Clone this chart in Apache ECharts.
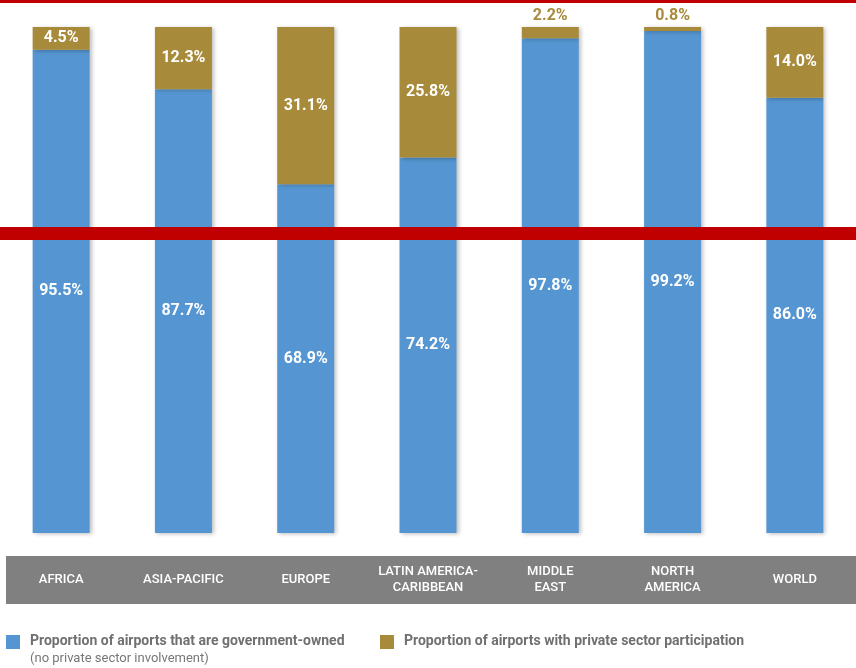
<!DOCTYPE html>
<html>
<head>
<meta charset="utf-8">
<script src="https://cdn.jsdelivr.net/npm/echarts@6/dist/echarts.min.js"></script>
<style>html,body{margin:0;padding:0;background:#fff}#c{width:856px;height:668px}</style>
</head>
<body>
<div id="c"></div>
<script>
const categories = ['AFRICA', 'ASIA-PACIFIC', 'EUROPE', 'LATIN AMERICA-\nCARIBBEAN', 'MIDDLE\nEAST', 'NORTH\nAMERICA', 'WORLD'];
const govOwned = [95.5, 87.7, 68.9, 74.2, 97.8, 99.2, 86.0];
const privatePart = [4.5, 12.3, 31.1, 25.8, 2.2, 0.8, 14.0];
const seriesNames = ['Proportion of airports that are government-owned', 'Proportion of airports with private sector participation'];
const legendNote = '(no private sector involvement)';

const BLUE = '#5596d2', GOLD = '#a88a3b';
const FONT = 'Roboto, "Liberation Sans", sans-serif';
const shadow = { shadowBlur: 4, shadowOffsetX: 2, shadowOffsetY: 1, shadowColor: 'rgba(0,0,0,0.25)' };

const chart = echarts.init(document.getElementById('c'));
chart.setOption({
  animation: false,
  grid: { left: 0, right: -10, top: 27, bottom: 135, containLabel: false },
  xAxis: {
    type: 'category', data: categories, z: 10,
    axisLine: { show: false }, axisTick: { show: false },
    axisLabel: { color: '#fff', fontFamily: FONT, fontSize: 13, fontWeight: 500, lineHeight: 16, margin: 47, verticalAlign: 'middle', interval: 0 }
  },
  yAxis: { type: 'value', min: 0, max: 100, show: false, splitLine: { show: false } },
  graphic: [
    { type: 'rect', z: 0, shape: { x: 6, y: 556, width: 850, height: 48 }, style: { fill: '#808080' } },
    { type: 'rect', z: 100, shape: { x: 0, y: 0, width: 856, height: 3 }, style: { fill: '#c00000' } },
    { type: 'rect', z: 100, shape: { x: 0, y: 227, width: 856, height: 13 }, style: { fill: '#c00000' } },
    { type: 'rect', z: 100, shape: { x: 6, y: 635, width: 14, height: 14 }, style: { fill: BLUE } },
    { type: 'text', z: 100, left: 30, top: 634, style: { text: seriesNames[0], fill: '#707070', font: 'bold 14px ' + FONT } },
    { type: 'text', z: 100, left: 30, top: 652, style: { text: legendNote, fill: '#777', font: '13px ' + FONT } },
    { type: 'rect', z: 100, shape: { x: 380, y: 635, width: 14, height: 14 }, style: { fill: GOLD } },
    { type: 'text', z: 100, left: 404, top: 634, style: { text: seriesNames[1], fill: '#707070', font: 'bold 14px ' + FONT } }
  ],
  series: [
    { name: seriesNames[0], type: 'bar', stack: 'a', barWidth: 57, data: govOwned,
      itemStyle: Object.assign({ color: BLUE }, shadow),
      label: { show: true, position: 'inside', formatter: p => p.value.toFixed(1) + '%', color: '#fff', fontFamily: FONT, fontSize: 16, fontWeight: 'bold' } },
    { name: seriesNames[1], type: 'bar', stack: 'a', barWidth: 57,
      data: privatePart.map(v => v < 3
        ? { value: v, label: { position: 'top', distance: 3, color: GOLD } }
        : { value: v }),
      itemStyle: Object.assign({ color: GOLD }, shadow),
      label: { show: true, position: 'inside', formatter: p => p.value.toFixed(1) + '%', color: '#fff', fontFamily: FONT, fontSize: 16, fontWeight: 'bold' } }
  ]
});
</script>
</body>
</html>
